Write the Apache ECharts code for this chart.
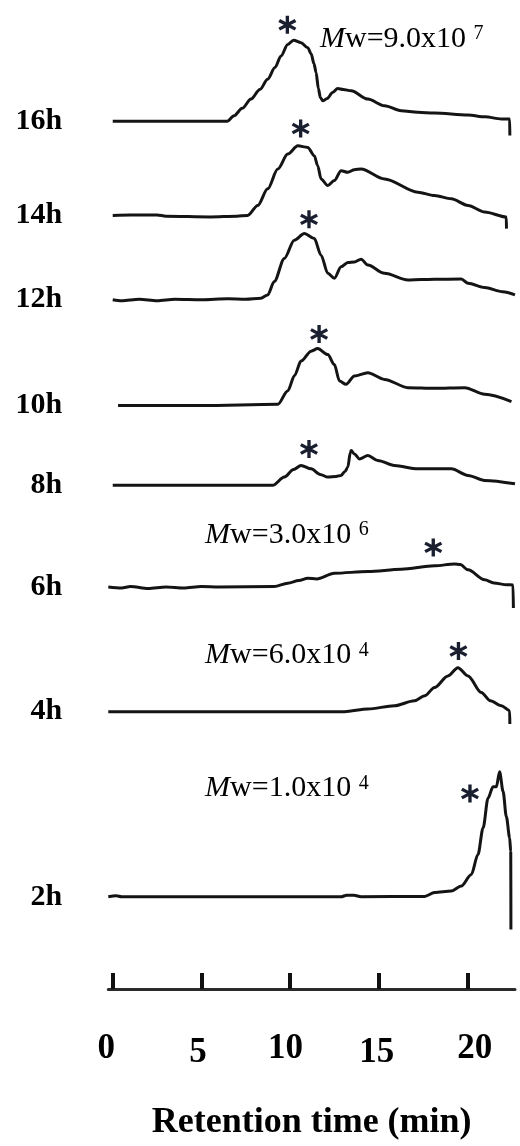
<!DOCTYPE html>
<html>
<head>
<meta charset="utf-8">
<script src="https://cdn.jsdelivr.net/npm/echarts@6/dist/echarts.min.js"></script>
<style>
html,body{margin:0;padding:0;background:#fff;}
#chart{width:520px;height:1146px;}
</style>
</head>
<body>
<div id="chart"></div>
<script>
// ---- data ----
const categories = ['16h', '14h', '12h', '10h', '8h', '6h', '4h', '2h'];
// baseline of each stacked trace (intensity units)
const traceOffsets = [873, 778.3, 693.5, 587, 506.7, 404.5, 279, 92.8];

const trace16h = [[0,0],[6.45,0],[6.85,5.6],[7.3,13],[7.8,22.3],[8.3,32],[8.74,42.3],[9.15,54],[9.49,65.6],[9.87,77.3],[10.2,81.6],[10.62,79],[11.0,74],[11.19,68],[11.35,58],[11.47,49],[11.6,33],[11.71,24],[11.85,20.6],[12.1,23],[12.4,29],[12.69,33],[13.0,32],[13.45,30.6],[14.39,22.3],[15.33,15.6],[16.27,10.6],[17.2,9],[18.14,8.3],[20.04,6.3],[21.0,4.5],[21.92,2.3],[22.39,2.3],[22.4,-14.4]];
const trace14h = [[0,0],[1,0.5],[2.5,0.5],[3.0,-0.8],[5.5,-1.5],[7,-0.8],[7.61,0],[8.18,10],[8.74,26.7],[9.31,46.7],[9.87,61.7],[10.44,70],[11.0,68.4],[11.37,60],[11.56,50],[11.75,36.7],[12.13,30],[12.5,35],[12.88,45],[13.26,43.4],[13.63,46],[14.01,46.7],[15.33,36.7],[17.21,23.4],[18.15,20],[19.1,16.7],[20.04,10],[20.98,3.4],[22.2,-1.6],[22.21,-13.3]];
const trace12h = [[0,0],[0.5,-1],[1.5,0.5],[2.5,-1],[3.5,0.5],[5,0],[6.5,1],[7.5,0.5],[8.36,1.5],[8.74,4.8],[9.11,18.2],[9.68,41.5],[10.24,59.8],[10.81,66.5],[11.37,61.5],[11.75,44.8],[12.13,26.5],[12.5,21.5],[12.88,33.2],[13.26,37.5],[13.63,38],[14.01,40.8],[14.39,34.8],[15.33,26.5],[16.65,19.8],[17.4,20.3],[18.15,20.5],[19.66,20.8],[20.04,16.5],[20.98,12.2],[22.0,8],[22.69,4.8]];
const trace10h = [[0.3,0],[5,0],[9.31,1.3],[9.87,14.7],[10.25,30],[10.62,44.7],[11.19,54.7],[11.56,57.3],[12.13,51.3],[12.5,41.3],[12.79,24.7],[13.16,21.3],[13.63,29.7],[14.39,33],[15.33,26.3],[16.65,18],[18.15,17.3],[19.85,18],[20.98,11.3],[22.49,4]];
const trace8h = [[0,0],[9.02,0],[9.68,8.3],[10.2,16],[10.62,20],[11.19,16.6],[11.7,11],[12.13,8.3],[12.6,9],[12.88,10],[13.1,14],[13.26,18.3],[13.4,33],[13.45,35],[13.63,31.6],[13.92,26.6],[14.39,30],[14.95,25],[15.89,20],[17.21,16.6],[19.1,16.6],[20.04,10],[20.98,5],[22.69,1.6]];
const trace6h = [[-0.25,0],[0.5,-1],[1,0.5],[2,-1.5],[3,0],[4,-1],[5,0.5],[6,0],[9.11,0.5],[9.87,3.8],[10.5,6.5],[11,8.8],[11.5,8],[12.5,13.8],[14.39,15.5],[16.27,17.8],[18.15,21.2],[19.28,23.2],[19.6,22.5],[20.04,17.2],[20.98,7.2],[21.5,4],[22.22,2.2],[22.58,2],[22.6,-21.2]];
const trace4h = [[-0.25,0],[13.07,0],[14.39,2.7],[15.89,6],[17.02,11],[17.6,16],[18.15,24.3],[18.91,36],[19.47,44.3],[20.04,36],[20.79,19.3],[21.3,11],[21.92,6],[22.39,1],[22.4,-12.3]];
const trace2h = [[-0.25,0],[0.2,1],[0.5,0],[12.88,0],[13.2,1.5],[13.6,1.5],[14.01,0],[17.59,0.3],[18.15,4.2],[19.1,5.8],[19.66,10.8],[20.23,22.5],[20.6,42.5],[20.89,69.2],[21.17,99.2],[21.45,110.8],[21.64,110.8],[21.82,125.8],[22.02,105.8],[22.2,80.8],[22.39,59.2],[22.45,45],[22.46,-33]];
const traces = [trace16h, trace14h, trace12h, trace10h, trace8h, trace6h, trace4h, trace2h];

// asterisk peak marks (time, height above baseline)
const starTimes = [9.85, 10.6, 11.07, 11.64, 11.07, 18.08, 19.5, 20.15];
const starHeights = [97, 87.4, 80.8, 72, 36.6, 39.8, 61, 103.9];

// molecular-weight annotations
const mwValues = ['9.0', '3.0', '6.0', '1.0'];
const mwExponents = ['7', '6', '4', '4'];
const mwTrace = [0, 5, 6, 7];
const mwTimes = [11.69, 5.21, 5.21, 5.21];
const mwHeights = [83, 52.2, 56.7, 108.9];

const tickValues = [0, 5, 10, 15, 20];
const xMin = -0.25, xMax = 22.69, yMax = 995;

// ---- chart ----
const SERIF = 'Liberation Serif';
const asteriskPath = 'path://M41 0L59 0L59 100L41 100Z M1.7 33.7L10.7 18.1L98.3 66.3L89.3 81.9Z M89.3 18.1L98.3 33.7L10.7 81.9L1.7 66.3Z';

const series = traces.map((tr, i) => ({
  type: 'line',
  name: categories[i],
  data: tr.map(p => [p[0], p[1] + traceOffsets[i]]),
  showSymbol: false,
  symbol: 'none',
  smooth: 0.3,
  smoothMonotone: 'x',
  lineStyle: { color: '#141414', width: 3 },
  silent: true,
  animation: false
}));

series.push({
  type: 'scatter',
  name: 'peaks',
  data: starTimes.map((t, i) => [t, starHeights[i] + traceOffsets[i]]),
  symbol: asteriskPath,
  symbolSize: 18,
  itemStyle: { color: '#1a1f30', opacity: 1 },
  silent: true,
  animation: false,
  z: 5
});

series.push({
  type: 'scatter',
  name: 'mw',
  data: mwTimes.map((t, i) => ({ value: [t, mwHeights[i] + traceOffsets[mwTrace[i]]], v: mwValues[i], e: mwExponents[i] })),
  symbolSize: 0,
  itemStyle: { opacity: 1 },
  silent: true,
  animation: false,
  label: {
    show: true,
    position: 'right',
    distance: 0,
    color: '#000',
    formatter: p => '{i|M}{r|w=' + p.data.v + 'x10 }{s|' + p.data.e + '}',
    rich: {
      i: { fontFamily: SERIF, fontStyle: 'italic', fontSize: 30, color: '#000', lineHeight: 30 },
      r: { fontFamily: SERIF, fontSize: 30, color: '#000', lineHeight: 30 },
      s: { fontFamily: SERIF, fontSize: 20, color: '#000', lineHeight: 20, verticalAlign: 'top' }
    }
  }
});

const tickRich = {
  t0: { padding: [0, 13, 0, 0] },
  t1: { padding: [4, 7, 0, 0] },
  t2: { padding: [0, 9, 0, 0] },
  t3: { padding: [4, 4, 0, 0] },
  t4: { padding: [0, 0, 0, 15] }
};
Object.keys(tickRich).forEach(k => Object.assign(tickRich[k], { fontFamily: SERIF, fontWeight: 'bold', fontSize: 35, color: '#000' }));

const chart = echarts.init(document.getElementById('chart'), null, { renderer: 'canvas' });
chart.setOption({
  animation: false,
  backgroundColor: '#fff',
  grid: { left: 108.3, right: 5, top: 0, bottom: 151, containLabel: false },
  xAxis: {
    type: 'value',
    min: xMin,
    max: xMax,
    name: 'Retention time (min)',
    nameLocation: 'middle',
    nameGap: 116,
    nameTextStyle: { fontFamily: SERIF, fontWeight: 'bold', fontSize: 36, color: '#000' },
    axisLine: { show: true, lineStyle: { color: '#2a2a2a', width: 3 } },
    axisTick: { show: true, inside: true, length: 16, customValues: tickValues, lineStyle: { color: '#111', width: 4 } },
    axisLabel: {
      customValues: tickValues,
      margin: 42,
      fontFamily: SERIF, fontWeight: 'bold', fontSize: 35, color: '#000',
      formatter: v => '{t' + tickValues.indexOf(v) + '|' + v + '}',
      rich: tickRich
    },
    splitLine: { show: false }
  },
  yAxis: {
    type: 'value',
    min: 0,
    max: yMax,
    axisLine: { show: false },
    axisTick: { show: false },
    splitLine: { show: false },
    axisLabel: {
      customValues: traceOffsets,
      margin: 46,
      fontFamily: SERIF,
      fontWeight: 'bold',
      fontSize: 30,
      color: '#000',
      formatter: v => {
        const idx = traceOffsets.indexOf(v);
        return idx >= 0 ? categories[idx] : '';
      }
    }
  },
  series: series
});
</script>
</body>
</html>
